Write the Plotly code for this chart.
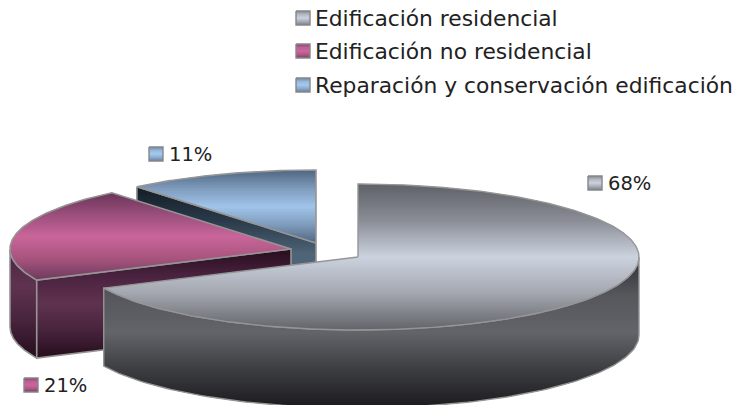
import math
import plotly.graph_objects as go

categories = ["Edificación residencial", "Edificación no residencial", "Reparación y conservación edificación"]
shares = [68, 21, 11]

W, H = 738, 405
RX, RY, DEPTH = 281, 73, 78
CENTRES = [(358, 257), (291, 249), (316, 243)]
EDGE = "#959595"
FONT = "DejaVu Sans"
TEXT_COLOR = "#222222"
LEGEND_SIZE = 21.8
LABEL_SIZE = 19.5

TOP_STOPS = [
    ["#5f6168", "#8a8d95", "#cbd2df", "#a3a6ae", "#62646a"],
    ["#6b3558", "#9a4f7c", "#c9659a", "#a8557f", "#6d3a5c"],
    ["#4f6682", "#7d9abb", "#a0c4ea", "#7f9cbc", "#50667f"],
]
SIDE_STOPS = [
    ["#2e2f34", "#55575c", "#626469", "#3c3d41", "#1b1b1e"],
    ["#260d1c", "#4a2340", "#5f3350", "#47233c", "#260d1c"],
    ["#131d27", "#2a3a49", "#4f6478", "#4f6478", "#4f6478"],
]
SWATCH_STOPS = [
    ["#85888f", "#b4b8c2", "#cbd2df", "#a8abb4", "#7c7e85"],
    ["#8a4470", "#c05f92", "#cc669c", "#b05886", "#7a3f62"],
    ["#6d87a6", "#96b8dc", "#a5c9ee", "#8aaacc", "#667f9c"],
]


def rgb(h):
    return [int(h[i:i + 2], 16) for i in (1, 3, 5)]


def ramp(stops, t):
    pos = min(max(t, 0), 1) * (len(stops) - 1)
    i = min(int(pos), len(stops) - 2)
    f = pos - i
    a, b = rgb(stops[i]), rgb(stops[i + 1])
    return "rgb(%d,%d,%d)" % tuple(round(a[k] + (b[k] - a[k]) * f) for k in range(3))


def clip(poly, y0, above):
    out = []
    for i, p in enumerate(poly):
        q = poly[(i + 1) % len(poly)]
        pin = p[1] >= y0 if above else p[1] <= y0
        qin = q[1] >= y0 if above else q[1] <= y0
        if pin:
            out.append(p)
        if pin != qin:
            f = (y0 - p[1]) / (q[1] - p[1])
            out.append((p[0] + (q[0] - p[0]) * f, y0))
    return out


fig = go.Figure()


def draw(poly, stops, step=1.5, edge=EDGE, lw=1.6, parts=None):
    ys = [p[1] for p in poly]
    lo, hi = min(ys), max(ys)
    for part in parts or [poly]:
        y = lo
        while y < hi:
            # each band overlaps the next one so that no seam shows
            band = clip(clip(part, y, True), y + step + 0.8, False)
            if len(band) > 2:
                colour = ramp(stops, (y + step / 2 - lo) / (hi - lo))
                fig.add_trace(go.Scatter(
                    x=[p[0] for p in band] + [band[0][0]],
                    y=[p[1] for p in band] + [band[0][1]],
                    mode="lines", fill="toself", fillcolor=colour,
                    line=dict(width=0),
                    hoverinfo="skip", showlegend=False))
            y += step
    closed = poly + [poly[0]]
    fig.add_trace(go.Scatter(
        x=[p[0] for p in closed], y=[p[1] for p in closed], mode="lines",
        line=dict(color=edge, width=lw), hoverinfo="skip", showlegend=False))


def point(centre, deg, dy=0):
    a = math.radians(deg)
    return (centre[0] + RX * math.sin(a), centre[1] - RY * math.cos(a) + dy)


def arc(centre, a0, a1, dy=0, n=120):
    return [point(centre, a0 + (a1 - a0) * i / n, dy) for i in range(n + 1)]


def wall_poly(centre, a0, a1):
    return arc(centre, a0, a1) + arc(centre, a1, a0, DEPTH)


total = sum(shares)
bounds = []
start = 0.0
for v in shares:
    bounds.append((start, start + 360.0 * v / total))
    start = bounds[-1][1]

big, mid, small = CENTRES
(b0, b1), (m0, m1), (s0, s1) = bounds

# small slice: cut face, then top
draw([point(small, s0), small, (small[0], small[1] + DEPTH), point(small, s0, DEPTH)], SIDE_STOPS[2])
draw([small] + arc(small, s0, s1), TOP_STOPS[2])

# middle slice: outer wall, cut face, top
face = [point(mid, m0), mid, (mid[0], mid[1] + DEPTH), point(mid, m0, DEPTH)]
draw(wall_poly(mid, m0, 270), SIDE_STOPS[1][1:])
draw(face, SIDE_STOPS[1])
draw([mid] + arc(mid, m0, m1), TOP_STOPS[1])

# big slice: front wall (filled in two halves, split at its lowest point), then top
draw(wall_poly(big, 90, b1), SIDE_STOPS[0], lw=1.4,
     parts=[wall_poly(big, 90, 180), wall_poly(big, 180, b1)])
draw([big] + arc(big, b0, b1, n=360), TOP_STOPS[0], lw=1.4)


def swatch(x, y, stops):
    draw([(x, y), (x + 14, y), (x + 14, y + 14), (x, y + 14)], stops, step=1.0, edge="#85878c", lw=1.4)


annotations = []


def text(x, y, s, size):
    annotations.append(dict(x=x, y=y, xref="x", yref="y", text=s, showarrow=False,
                            xanchor="left", yanchor="middle", borderpad=0, borderwidth=0,
                            font=dict(family=FONT, size=size, color=TEXT_COLOR)))


for name, stops, y in zip(categories, SWATCH_STOPS, (11, 44, 78)):
    swatch(296, y, stops)
    text(315, y + 7, name, LEGEND_SIZE)

for v, stops, (sx, sy) in zip(shares, SWATCH_STOPS, ((588, 176), (24, 378), (149, 147))):
    swatch(sx, sy, stops)
    text(sx + 20, sy + 7, f"{v}%", LABEL_SIZE)

fig.update_layout(
    width=W, height=H, margin=dict(l=0, r=0, t=0, b=0),
    paper_bgcolor="white", plot_bgcolor="white", showlegend=False,
    hovermode=False, annotations=annotations,
    xaxis=dict(range=[0, W], visible=False, fixedrange=True),
    yaxis=dict(range=[H, 0], visible=False, fixedrange=True),
)
fig.write_html("out.html", config={"displayModeBar": False},
               post_script="document.body.style.margin='0';document.body.style.overflow='hidden';")
